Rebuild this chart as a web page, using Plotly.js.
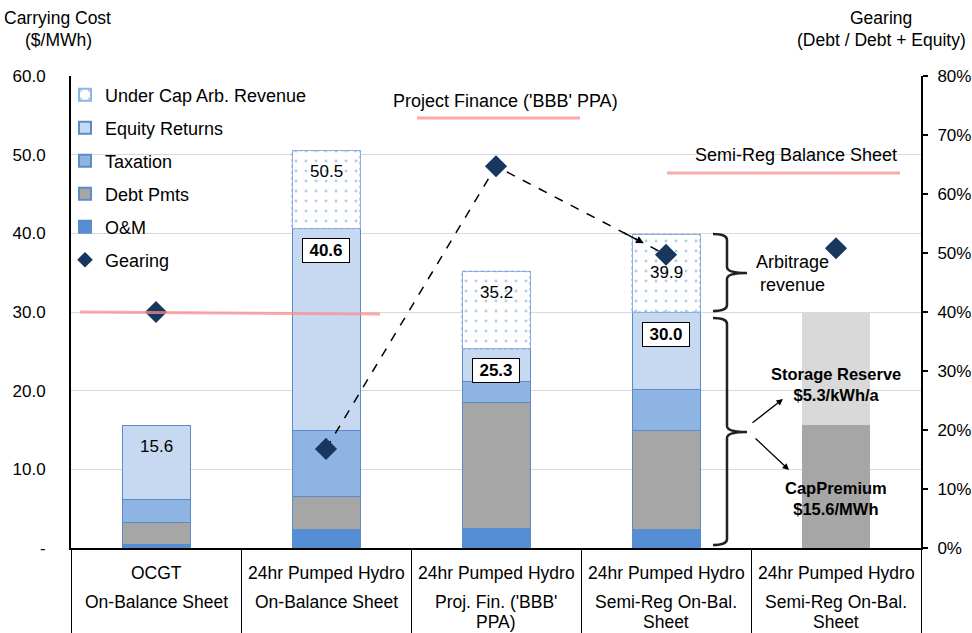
<!DOCTYPE html>
<html>
<head>
<meta charset="utf-8">
<script src="https://cdn.plot.ly/plotly-3.0.1.min.js"></script>
<style>html,body{margin:0;padding:0;background:#fff;}#chart{width:972px;height:633px;}</style>
</head>
<body>
<div id="chart"></div>
<script>
// ---- data ----
const categories = ["OCGT On-Balance Sheet", "PH On-Balance Sheet", "PH Proj. Fin.", "PH Semi-Reg", "PH Semi-Reg Cap"];
const labelLine1 = ["OCGT", "24hr Pumped Hydro", "24hr Pumped Hydro", "24hr Pumped Hydro", "24hr Pumped Hydro"];
const labelLine2 = ["On-Balance Sheet", "On-Balance Sheet", "Proj. Fin. ('BBB'", "Semi-Reg On-Bal.", "Semi-Reg On-Bal."];
const labelLine3 = ["", "", "PPA)", "Sheet", "Sheet"];
const omCost        = [0.5, 2.4, 2.5, 2.4, null];
const debtPmts      = [2.7, 4.2, 16.0, 12.5, null];
const taxation      = [3.0, 8.3, 2.7, 5.3, null];
const equityReturns = [9.4, 25.7, 4.1, 9.8, null];
const underCapArb   = [null, 9.9, 9.9, 9.9, null];
const capPremium     = [null, null, null, null, 15.6];
const storageReserve = [null, null, null, null, 14.4];
const gearing = [0.40, 0.168, 0.647, 0.497, 0.508];
const yTickVals = [0, 10, 20, 30, 40, 50, 60];
const yTickText = ["-", "10.0", "20.0", "30.0", "40.0", "50.0", "60.0"];

// ---- layout helpers (pixel -> paper) ----
const L = 71, R = 921, T = 76, B = 548;
const px = x => (x - L) / (R - L);
const py = y => (B - y) / (B - T);
const FONT = "Liberation Sans, Arial, sans-serif";
const edge = '#5b8bc9';
const BW = 0.4;

const traces = [];
function barTrace(name, vals, color, rank, extra) {
  return Object.assign({
    type: 'bar', name: name, x: categories, y: vals, width: BW,
    marker: {color: color, line: {color: edge, width: 1}},
    legendrank: rank, legendgroup: name, hoverinfo: 'skip'
  }, extra || {});
}
traces.push(barTrace('O&M', omCost, '#558ed5', 5));
traces.push(barTrace('Debt Pmts', debtPmts, '#a6a6a6', 4));
traces.push(barTrace('Taxation', taxation, '#8eb4e3', 3));
traces.push(barTrace('Equity Returns', equityReturns, '#c6d9f1', 2));
traces.push(barTrace('Under Cap Arb. Revenue', underCapArb, 'white', 1, {
  marker: {color: 'white', line: {color: '#8eb4e3', width: 1},
           pattern: {shape: '.', fgcolor: '#b3cdee', bgcolor: 'white', size: 10, solidity: 0.07}}
}));
traces.push(barTrace('CapPremium', capPremium, '#a6a6a6', 10, {marker: {color: '#a6a6a6', line: {width: 0}}, showlegend: false}));
traces.push(barTrace('Storage Reserve', storageReserve, '#d9d9d9', 11, {marker: {color: '#d9d9d9', line: {width: 0}}, showlegend: false}));

// dashed trend between gearing points of pumped hydro cases 2-4
traces.push({
  type: 'scatter', mode: 'lines', x: categories.slice(1, 4), y: gearing.slice(1, 4), yaxis: 'y2',
  line: {color: 'black', width: 1.5, dash: 'dash'}, showlegend: false, hoverinfo: 'skip'
});
traces.push({
  type: 'scatter', mode: 'markers', name: 'Gearing', x: categories, y: gearing, yaxis: 'y2',
  marker: {symbol: 'diamond', size: 17, color: '#17375e'}, legendrank: 6, legendgroup: 'Gearing', hoverinfo: 'skip'
});

// ---- annotations ----
const ann = [];
function note(x, y, text, size, extra) {
  ann.push(Object.assign({xref: 'paper', yref: 'paper', x: px(x), y: py(y), text: text, showarrow: false,
    font: {size: size}, xanchor: 'center', yanchor: 'middle', align: 'center'}, extra || {}));
}
// axis titles
note(57, 18, 'Carrying Cost', 17.5);
note(58, 40, '($/MWh)', 17.5);
note(881, 18, 'Gearing', 17.5);
note(881, 40, '(Debt / Debt + Equity)', 17.5);

// category labels
categories.forEach((c, i) => {
  [labelLine1[i], labelLine2[i], labelLine3[i]].forEach((t, k) => {
    if (!t) return;
    ann.push({xref: 'x', yref: 'paper', x: c, y: py([573, 602, 622][k]), text: t, showarrow: false,
      font: {size: 17.5}, xanchor: 'center', yanchor: 'middle'});
  });
});

// value labels
categories.forEach((c, i) => {
  if (equityReturns[i] == null) return;
  const eqTop = omCost[i] + debtPmts[i] + taxation[i] + equityReturns[i];
  if (underCapArb[i] == null) {
    ann.push({x: c, y: eqTop, yref: 'y', text: eqTop.toFixed(1), showarrow: false, yshift: -21,
      font: {size: 17}, yanchor: 'middle'});
  } else {
    ann.push({x: c, y: eqTop, yref: 'y', text: '<b>' + eqTop.toFixed(1) + '</b>', showarrow: false, yshift: -22,
      font: {size: 17}, yanchor: 'middle', bgcolor: 'white', bordercolor: 'black', borderwidth: 1, borderpad: 2,
      width: 42});
    const tot = eqTop + underCapArb[i];
    ann.push({x: c, y: tot, yref: 'y', text: tot.toFixed(1), showarrow: false, yshift: i === 3 ? -38 : -21,
      font: {size: 17}, yanchor: 'middle'});
  }
});

// arrowhead at end of dashed trend
ann.push({x: categories[3], y: gearing[3], xref: 'x', yref: 'y2', ax: -44, ay: -23, showarrow: true,
  arrowhead: 2, arrowsize: 1.1, arrowwidth: 1.4, arrowcolor: 'black', standoff: 25, text: ''});

// text notes
note(505, 101, "Project Finance ('BBB' PPA)", 18);
note(796, 155, "Semi-Reg Balance Sheet", 18);
note(792, 273, "Arbitrage<br>revenue", 18);
note(836, 384, "<b>Storage Reserve<br>$5.3/kWh/a</b>", 16.5);
note(836, 498, "<b>CapPremium<br>$15.6/MWh</b>", 16.5);
// arrows from brace tip
ann.push({xref: 'paper', yref: 'paper', x: px(783), y: py(399), ax: px(751), ay: py(424), axref: 'paper', ayref: 'paper',
  showarrow: true, arrowhead: 2, arrowsize: 1, arrowwidth: 1.3, arrowcolor: 'black', text: ''});
ann.push({xref: 'paper', yref: 'paper', x: px(789), y: py(470), ax: px(754), ay: py(437), axref: 'paper', ayref: 'paper',
  showarrow: true, arrowhead: 2, arrowsize: 1, arrowwidth: 1.3, arrowcolor: 'black', text: ''});

// ---- shapes ----
const shapes = [];
const pink = 'rgba(250,140,140,0.75)';
shapes.push({type: 'line', xref: 'paper', yref: 'paper', x0: px(80), y0: py(312), x1: px(380), y1: py(314), line: {color: pink, width: 3}});
shapes.push({type: 'line', xref: 'paper', yref: 'paper', x0: px(417), y0: py(118), x1: px(580), y1: py(118), line: {color: pink, width: 3}});
shapes.push({type: 'line', xref: 'paper', yref: 'paper', x0: px(667), y0: py(173), x1: px(900), y1: py(173), line: {color: pink, width: 3}});

// dotted outline of the arbitrage blocks
categories.forEach((c, i) => {
  if (underCapArb[i] == null) return;
  const eqTop = omCost[i] + debtPmts[i] + taxation[i] + equityReturns[i];
  shapes.push({type: 'rect', xref: 'x', yref: 'y', x0: i - BW / 2, x1: i + BW / 2, y0: eqTop, y1: eqTop + underCapArb[i],
    line: {color: '#7fa7d9', width: 1, dash: 'dot'}, fillcolor: 'rgba(0,0,0,0)', layer: 'above'});
});

// curly braces
function brace(x0, xs, xt, yt, ym, yb) {
  const r = 6;
  const P = (x, y) => px(x).toFixed(5) + ',' + py(y).toFixed(5);
  return 'M' + P(x0, yt) + ' Q' + P(xs, yt) + ' ' + P(xs, yt + r) +
    ' L' + P(xs, ym - r) + ' Q' + P(xs, ym) + ' ' + P(xt, ym) +
    ' Q' + P(xs, ym) + ' ' + P(xs, ym + r) +
    ' L' + P(xs, yb - r) + ' Q' + P(xs, yb) + ' ' + P(x0, yb);
}
shapes.push({type: 'path', xref: 'paper', yref: 'paper', path: brace(713, 727, 747, 234, 273, 311), line: {color: '#222', width: 2.5}});
shapes.push({type: 'path', xref: 'paper', yref: 'paper', path: brace(713, 727, 747, 318, 432, 545), line: {color: '#222', width: 2.5}});

const layout = {
  width: 972, height: 633,
  margin: {l: L, r: 972 - R, t: T, b: 633 - B, pad: 0},
  paper_bgcolor: 'white', plot_bgcolor: 'white',
  font: {family: FONT, color: 'black', size: 16},
  barmode: 'stack',
  showlegend: true,
  legend: {x: px(65), y: py(76.5), xanchor: 'left', yanchor: 'top', bgcolor: 'rgba(0,0,0,0)',
    font: {size: 18}, traceorder: 'grouped', tracegroupgap: 6.6, itemwidth: 30, itemsizing: 'constant'},
  xaxis: {type: 'category', categoryarray: categories, range: [-0.5, 4.5], showgrid: false,
    showline: true, linecolor: 'black', linewidth: 2, showticklabels: false,
    ticks: 'outside', tickson: 'boundaries', ticklen: 86, tickcolor: 'black', tickwidth: 1, fixedrange: true},
  yaxis: {range: [0, 60], tickvals: yTickVals, ticktext: yTickText, showgrid: true, gridcolor: '#d9d9d9', gridwidth: 1,
    zeroline: false, showline: true, linecolor: 'black', linewidth: 2, ticks: '', ticklabelstandoff: 20,
    tickfont: {size: 17}},
  yaxis2: {overlaying: 'y', side: 'right', range: [0, 0.8], dtick: 0.1, tickformat: '.0%', showgrid: false,
    zeroline: false, showline: true, linecolor: 'black', linewidth: 2, ticks: 'outside', ticklen: 5, tickcolor: 'black',
    tickwidth: 2, tickfont: {size: 17}, ticklabelstandoff: 6},
  annotations: ann,
  shapes: shapes
};

Plotly.newPlot('chart', traces, layout, {displayModeBar: false, staticPlot: true});
</script>
</body>
</html>
